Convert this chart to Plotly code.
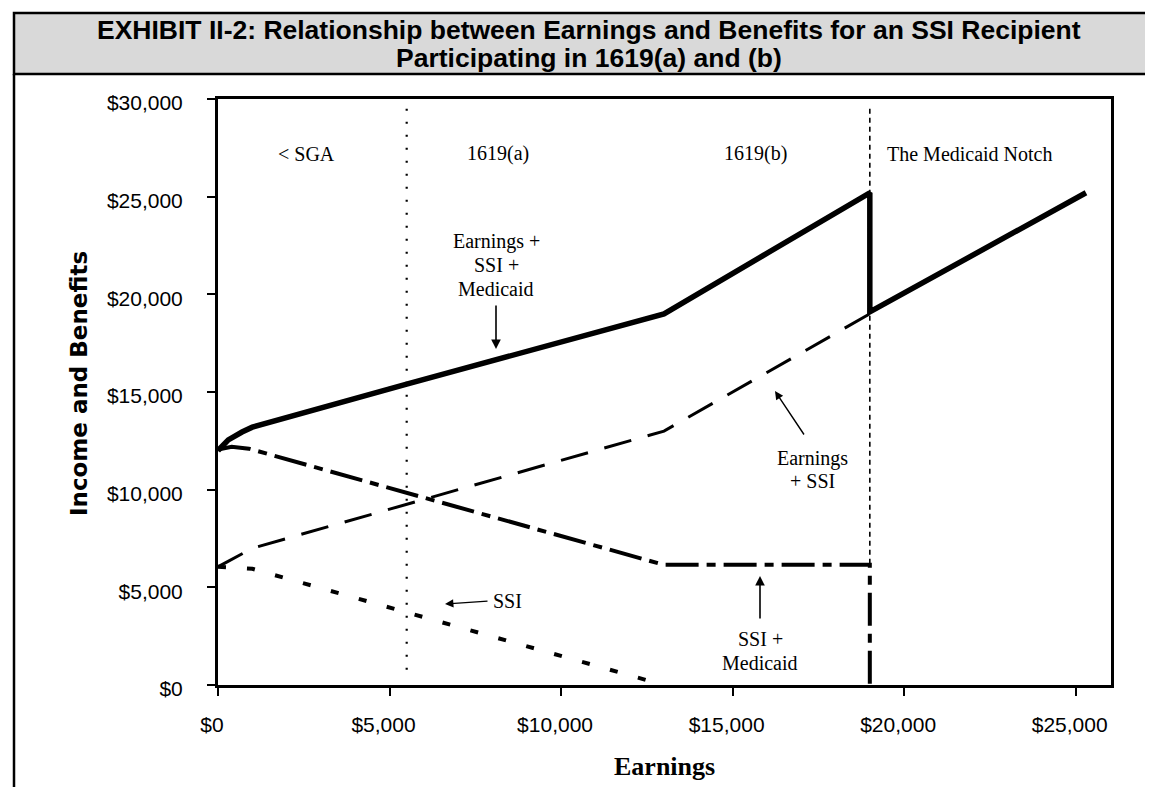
import plotly.graph_objects as go

# ---------------- data ----------------
x_tick_values = [0, 5000, 10000, 15000, 20000, 25000]
x_tick_labels = ["$0", "$5,000", "$10,000", "$15,000", "$20,000", "$25,000"]
y_tick_values = [0, 5000, 10000, 15000, 20000, 25000, 30000]
y_tick_labels = ["$0", "$5,000", "$10,000", "$15,000", "$20,000", "$25,000", "$30,000"]

total_x = [0, 300, 700, 1000, 5500, 13000, 19000, 19000, 25300]
total_y = [12000, 12550, 12950, 13200, 15400, 19000, 25200, 19100, 25200]

ssi_medicaid_x = [0, 400, 900, 13000, 19000, 19000]
ssi_medicaid_y = [12050, 12200, 12100, 6150, 6150, 0]

earnings_ssi_x = [0, 1000, 13000, 19000]
earnings_ssi_y = [6050, 7000, 13000, 19000]

ssi_x = [0, 1000, 13000]
ssi_y = [6050, 5950, 0]

sga_earnings = 5500
notch_earnings = 19000

region_labels = ["< SGA", "1619(a)", "1619(b)", "The Medicaid Notch"]

# ---------------- geometry helpers ----------------
W, H = 1153, 787
PL, PR, PT, PB = 210, 1103, 91, 677


def px(x):
    return (x - PL) / (PR - PL)


def py(y):
    return (PB - y) / (PB - PT)


fig = go.Figure()

fig.add_trace(go.Scatter(x=[sga_earnings, sga_earnings], y=[29500, 700], mode="lines",
                         line=dict(color="black", width=2.2, dash="2px,11px"), hoverinfo="skip"))
fig.add_trace(go.Scatter(x=[notch_earnings, notch_earnings], y=[29500, 6150], mode="lines",
                         line=dict(color="black", width=1.6, dash="5px,4px"), hoverinfo="skip"))

fig.add_trace(go.Scatter(x=ssi_x, y=ssi_y, mode="lines",
                         line=dict(color="black", width=4, dash="8px,21px"), name="SSI"))
fig.add_trace(go.Scatter(x=earnings_ssi_x, y=earnings_ssi_y, mode="lines",
                         line=dict(color="black", width=3, dash="28px,17px"), name="Earnings + SSI"))
fig.add_trace(go.Scatter(x=ssi_medicaid_x, y=ssi_medicaid_y, mode="lines",
                         line=dict(color="black", width=4, dash="33px,8px,9px,8px"), name="SSI + Medicaid"))
fig.add_trace(go.Scatter(x=total_x, y=total_y, mode="lines",
                         line=dict(color="black", width=5.5), name="Earnings + SSI + Medicaid"))

serif = "Liberation Serif"
sans = "Liberation Sans"
AF = 20  # annotation font size

annotations = []
# region labels
for txt, xc in zip(region_labels, [298, 490, 747, 962]):
    annotations.append(dict(x=px(xc), y=py(146), xref="paper", yref="paper", text=txt,
                            showarrow=False, font=dict(family=serif, size=AF, color="black"),
                            xanchor="center", yanchor="middle"))

# Earnings + SSI + Medicaid label
for txt, yc in zip(["Earnings +", "SSI +", "Medicaid"], [233, 257, 281]):
    annotations.append(dict(x=px(488), y=py(yc), xref="paper", yref="paper", text=txt,
                            showarrow=False, font=dict(family=serif, size=AF, color="black"),
                            xanchor="center", yanchor="middle"))
annotations.append(dict(x=px(488), y=py(341), xref="paper", yref="paper", text="",
                        showarrow=True, ax=0, ay=-45, arrowhead=2, arrowsize=1.2,
                        arrowwidth=1.6, arrowcolor="black"))

# Earnings + SSI label
for txt, yc in zip(["Earnings", "+ SSI"], [450, 473]):
    annotations.append(dict(x=px(804), y=py(yc), xref="paper", yref="paper", text=txt,
                            showarrow=False, font=dict(family=serif, size=AF, color="black"),
                            xanchor="center", yanchor="middle"))
annotations.append(dict(x=px(767), y=py(383), xref="paper", yref="paper", text="",
                        showarrow=True, ax=30, ay=45, arrowhead=2, arrowsize=1.2,
                        arrowwidth=1.4, arrowcolor="black"))

# SSI label
annotations.append(dict(x=px(483), y=py(593), xref="paper", yref="paper", text="SSI",
                        showarrow=False, font=dict(family=serif, size=AF, color="black"),
                        xanchor="left", yanchor="middle"))
annotations.append(dict(x=px(437), y=py(596), xref="paper", yref="paper", text="",
                        showarrow=True, ax=44, ay=-3, arrowhead=2, arrowsize=1.2,
                        arrowwidth=1.4, arrowcolor="black"))

# SSI + Medicaid label
for txt, yc in zip(["SSI +", "Medicaid"], [631, 655]):
    annotations.append(dict(x=px(752), y=py(yc), xref="paper", yref="paper", text=txt,
                            showarrow=False, font=dict(family=serif, size=AF, color="black"),
                            xanchor="center", yanchor="middle"))
annotations.append(dict(x=px(752), y=py(568), xref="paper", yref="paper", text="",
                        showarrow=True, ax=0, ay=44, arrowhead=2, arrowsize=1.2,
                        arrowwidth=1.6, arrowcolor="black"))

# axis titles
annotations.append(dict(x=px(656), y=py(758), xref="paper", yref="paper", text="<b>Earnings</b>",
                        showarrow=False, font=dict(family=serif, size=26, color="black"),
                        xanchor="center", yanchor="middle"))
annotations.append(dict(x=px(71), y=py(376), xref="paper", yref="paper",
                        text="<b>Income and Benefits</b>", textangle=-90,
                        showarrow=False, font=dict(family="DejaVu Sans", size=23, color="black"),
                        xanchor="center", yanchor="middle"))

# header title
for txt, yc in zip(["EXHIBIT II-2: Relationship between Earnings and Benefits for an SSI Recipient",
                    "Participating in 1619(a) and (b)"], [22, 50]):
    annotations.append(dict(x=px(581), y=py(yc), xref="paper", yref="paper", text="<b>" + txt + "</b>",
                            showarrow=False, font=dict(family=sans, size=26.5, color="black"),
                            xanchor="center", yanchor="middle"))

shapes = [
    dict(type="rect", xref="paper", yref="paper", x0=px(6), x1=px(1150), y0=py(5), y1=py(66),
         fillcolor="#d9d9d9", line=dict(color="black", width=2.5), layer="below"),
    dict(type="line", xref="paper", yref="paper", x0=px(6), x1=px(6), y0=py(66), y1=py(790),
         line=dict(color="black", width=2.5)),
    dict(type="line", xref="paper", yref="paper", x0=px(1150), x1=px(1150), y0=py(66), y1=py(790),
         line=dict(color="black", width=2.5)),
]

fig.update_layout(
    width=W, height=H,
    margin=dict(l=PL, r=W - PR, t=PT, b=H - PB),
    paper_bgcolor="white", plot_bgcolor="white",
    showlegend=False,
    annotations=annotations,
    shapes=shapes,
    xaxis=dict(range=[0, 26030], tickvals=x_tick_values, ticktext=x_tick_labels,
               showgrid=False, zeroline=False, showline=True, linecolor="black", linewidth=3,
               mirror=True, ticks="outside", ticklen=8, tickwidth=2, tickcolor="black",
               tickfont=dict(family=sans, size=21, color="black"), ticklabelstandoff=11,
               ticklabelshift=-6),
    yaxis=dict(range=[0, 30000], tickvals=y_tick_values, ticktext=y_tick_labels,
               showgrid=False, zeroline=False, showline=True, linecolor="black", linewidth=3,
               mirror=True, ticks="outside", ticklen=8, tickwidth=2, tickcolor="black",
               tickfont=dict(family=sans, size=21, color="black"), ticklabelstandoff=20,
               ticklabelshift=4),
)

fig.write_html("out.html")
